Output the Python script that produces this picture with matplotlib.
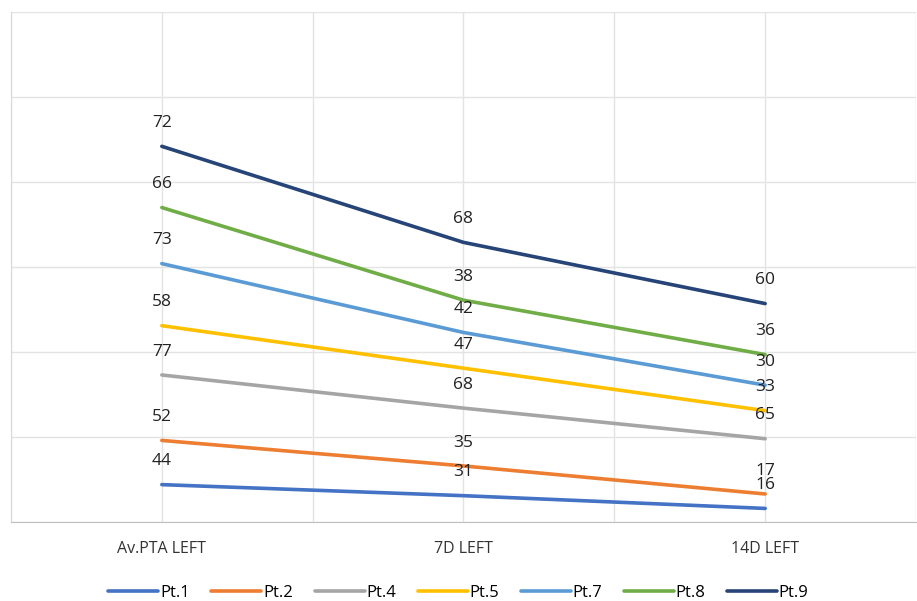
import numpy as np
import matplotlib
matplotlib.use("Agg")
import matplotlib.pyplot as plt

plt.rcParams['font.family'] = ['Open Sans', 'DejaVu Sans']

# stacked line chart, labels show each patient's own value
categories = ["Av.PTA LEFT", "7D LEFT", "14D LEFT"]
patients = ["Pt.1", "Pt.2", "Pt.4", "Pt.5", "Pt.7", "Pt.8", "Pt.9"]
pt1 = [44, 31, 16]
pt2 = [52, 35, 17]
pt4 = [77, 68, 65]
pt5 = [58, 47, 33]
pt7 = [73, 42, 30]
pt8 = [66, 38, 36]
pt9 = [72, 68, 60]
series = [pt1, pt2, pt4, pt5, pt7, pt8, pt9]

colors = ["#4472C4", "#ED7D31", "#A5A5A5", "#FFC000", "#5B9BD5", "#70AD47", "#264478"]

fig = plt.figure(figsize=(9.17, 6.01), dpi=100)
ax = fig.add_axes([0.012, 0.1314, 0.9869, 0.8486])

x = np.arange(len(categories))
total = np.zeros(len(categories))
for name, vals, c in zip(patients, series, colors):
    total = total + np.array(vals)
    ax.plot(x, total, color=c, lw=2.6, label=name, solid_capstyle='round', zorder=3)
    for xi, yi, v in zip(x, total, vals):
        ax.annotate(str(v), (xi, yi), xytext=(0, 11), textcoords='offset points',
                    ha='center', va='bottom', fontsize=12.5, color='#222222', zorder=4)

ax.set_xlim(-0.5, 2.5)
ax.set_ylim(0, 600)
ax.set_yticks(np.arange(0, 601, 100))
ax.set_yticklabels([])
ax.set_xticks(np.arange(-0.5, 2.51, 0.5), minor=False)
ax.set_xticklabels([])
ax.tick_params(length=0)
ax.grid(True, color='#E3E3E3', lw=1)
ax.set_axisbelow(True)

for xi, lab in zip(x, categories):
    ax.text(xi, -32, lab, ha='center', va='center', fontsize=11.5, color='#333333')

for s in ['top', 'right']:
    ax.spines[s].set_visible(False)
ax.spines['left'].set_color('#D9D9D9')
ax.spines['bottom'].set_color('#BFBFBF')

fig.legend(loc='lower center', ncol=7, frameon=False, bbox_to_anchor=(0.5, -0.025),
           handlelength=3.0, columnspacing=1.3, handletextpad=0.1, fontsize=12)

fig.savefig("out.png", dpi=100)
